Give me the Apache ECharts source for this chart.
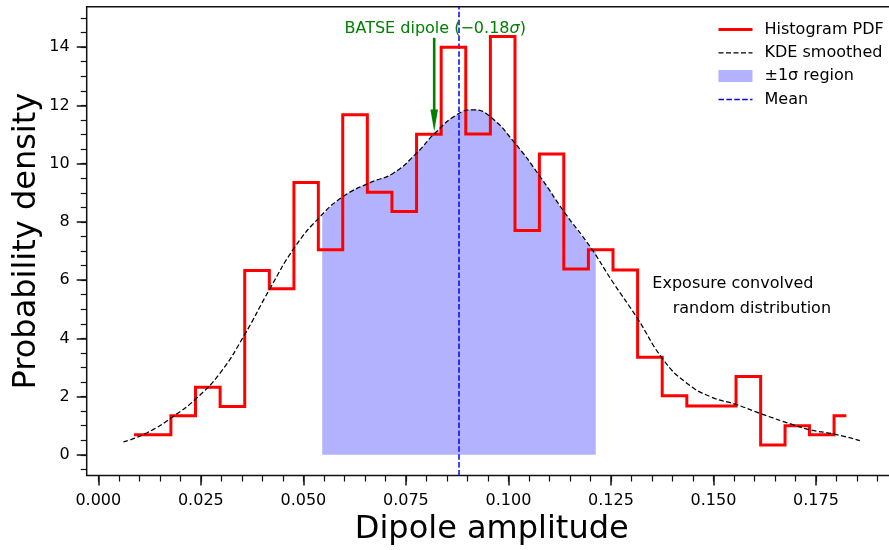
<!DOCTYPE html>
<html><head><meta charset="utf-8">
<script src="https://cdn.jsdelivr.net/npm/echarts@6/dist/echarts.min.js"></script>
<style>html,body{margin:0;padding:0;background:#fff}#c{width:889px;height:550px}</style>
</head><body><div id="c"></div>
<script>
// ---- data ----
const binCenters = [0.0087,0.0147,0.0207,0.0267,0.0327,0.0387,0.0447,0.0507,0.0566,0.0626,
  0.0686,0.0746,0.0806,0.0866,0.0926,0.0986,0.1046,0.1105,0.1165,0.1225,
  0.1285,0.1345,0.1405,0.1465,0.1525,0.1585,0.1645,0.1704,0.1764,0.1824];
const histPdf = [0.69,0.69,1.34,2.32,1.66,6.33,5.70,9.35,7.04,11.68,
  9.02,8.36,11.01,14.00,11.02,14.37,7.70,10.33,6.38,7.04,
  6.35,3.35,2.03,1.68,1.68,2.69,0.34,1.00,0.69,1.34];
const kdeX = [0.0061,0.0118,0.0183,0.0240,0.0297,0.0354,0.0419,0.0480,0.0541,0.0597,
  0.0663,0.0719,0.0776,0.0821,0.0874,0.0914,0.0955,0.1016,0.1077,0.1138,
  0.1199,0.1256,0.1313,0.1378,0.1435,0.1492,0.1557,0.1618,0.1695,0.1735,
  0.1792,0.1857];
const kdeY = [0.44,0.75,1.32,1.95,2.81,4.06,5.72,7.15,8.18,8.87,
  9.35,9.67,10.36,11.05,11.68,11.85,11.62,10.70,9.56,8.30,
  7.15,5.90,4.72,3.26,2.46,2.00,1.72,1.40,1.03,0.86,
  0.72,0.49];
const sigmaLow = 0.0546, sigmaHigh = 0.1213;
const sigmaLowY = 8.20, sigmaHighY = 7.04;
const meanX = 0.08795;
const batseX = 0.0819, batseTextY = 14.63, arrowTopY = 14.32, arrowTipY = 11.10;
const batseLabel = 'BATSE dipole (\u22120.18', batseSigma = '\u03c3';
const exposureX = 0.1351, exposureY = 5.45;
const exposureLabel = 'Exposure convolved\n    random distribution';
const xTickValues = [0, 0.025, 0.05, 0.075, 0.1, 0.125, 0.15, 0.175];
const xTickLabels = ['0.000','0.025','0.050','0.075','0.100','0.125','0.150','0.175'];
const yTickValues = [0, 2, 4, 6, 8, 10, 12, 14];
const yTickLabels = ['0','2','4','6','8','10','12','14'];
const xMin = -0.00283, xMax = 0.1947, yMin = -0.71, yMax = 15.39;
const seriesNames = ['Histogram PDF','KDE smoothed','\u00b11\u03c3 region','Mean'];
const xLabelName = 'Dipole amplitude', yLabelName = 'Probability density';

// ---- build ----
const xMinor = []; for (let i = 0; i <= 38; i++) xMinor.push(+(i*0.005).toFixed(3));
const yMinor = []; for (let i = -1; i <= 30; i++) yMinor.push(i*0.5);
const histData = binCenters.map((c,i)=>[c, histPdf[i]]);
const kdeData = kdeX.map((x,i)=>[x, kdeY[i]]);
const bandData = [[sigmaLow, sigmaLowY]].concat(kdeData.filter(p=>p[0]>sigmaLow && p[0]<sigmaHigh)).concat([[sigmaHigh, sigmaHighY]]);
const FONT = 'DejaVu Sans';
const tickColor = '#111';

function xAxisBase(extra){
  return Object.assign({type:'value', min:xMin, max:xMax, gridIndex:0, position:'bottom',
    axisLine:{show:false, onZero:false}, splitLine:{show:false}}, extra);
}
function yAxisBase(extra){
  return Object.assign({type:'value', min:yMin, max:yMax, gridIndex:0, position:'left',
    axisLine:{show:false, onZero:false}, splitLine:{show:false}}, extra);
}

const chart = echarts.init(document.getElementById('c'), null, {renderer:'canvas'});
chart.setOption({
  animation:false,
  backgroundColor:'#fff',
  grid:{left:86.7, top:6.7, right:-7.8, bottom:74.5, containLabel:false, outerBoundsMode:'none',
    show:true, borderColor:'#111', borderWidth:1.5, backgroundColor:'transparent'},
  xAxis:[
    xAxisBase({
      name:xLabelName, nameLocation:'middle', nameGap:38, nameMoveOverlap:false,
      nameTextStyle:{fontFamily:FONT, fontSize:32, color:'#000'},
      axisTick:{show:true, inside:false, length:10, customValues:xTickValues, lineStyle:{color:tickColor, width:1.5}},
      axisLabel:{show:true, margin:17, customValues:xTickValues, fontFamily:FONT, fontSize:16, color:'#000',
        formatter:(v)=>{const i=xTickValues.findIndex(t=>Math.abs(t-v)<1e-9); return i>=0?xTickLabels[i]:'';}}
    }),
    xAxisBase({
      axisTick:{show:true, inside:false, length:6, customValues:xMinor, lineStyle:{color:tickColor, width:1.2}},
      axisLabel:{show:false}
    })
  ],
  yAxis:[
    yAxisBase({
      name:yLabelName, nameLocation:'middle', nameGap:44, nameRotate:90, nameMoveOverlap:false,
      nameTextStyle:{fontFamily:FONT, fontSize:32, color:'#000'},
      axisTick:{show:true, inside:false, length:10, customValues:yTickValues, lineStyle:{color:tickColor, width:1.5}},
      axisLabel:{show:true, margin:17, customValues:yTickValues, fontFamily:FONT, fontSize:16, color:'#000',
        formatter:(v)=>{const i=yTickValues.findIndex(t=>Math.abs(t-v)<1e-9); return i>=0?yTickLabels[i]:'';}}
    }),
    yAxisBase({
      axisTick:{show:true, inside:false, length:6, customValues:yMinor, lineStyle:{color:tickColor, width:1.2}},
      axisLabel:{show:false}
    })
  ],
  legend:{
    orient:'vertical', left:717, top:21.5, padding:0, itemGap:7.3, itemWidth:34, itemHeight:12,
    textStyle:{fontFamily:FONT, fontSize:16, color:'#000', padding:[0,0,0,7]},
    data:[
      {name:seriesNames[0], itemStyle:{opacity:0}, lineStyle:{width:3}},
      {name:seriesNames[1], itemStyle:{opacity:0}, lineStyle:{width:1.3}},
      {name:seriesNames[2], icon:'rect'},
      {name:seriesNames[3], itemStyle:{opacity:0}, lineStyle:{width:1.5}}
    ]
  },
  series:[
    {name:seriesNames[2], type:'line', data:bandData, smooth:true, symbol:'none', z:1,
      lineStyle:{width:0, color:'rgba(0,0,255,0.3)'}, itemStyle:{color:'rgba(0,0,255,0.3)'},
      areaStyle:{color:'rgba(0,0,255,0.3)', origin:0, opacity:1}},
    {name:seriesNames[3], type:'line', data:[[meanX, yMin],[meanX, yMax]], symbol:'none', z:3,
      lineStyle:{color:'#0000ff', width:1.5, type:[5.5,2.4]}, itemStyle:{color:'#0000ff'}},
    {name:seriesNames[0], type:'line', data:histData, step:'middle', symbol:'none', z:4,
      lineStyle:{color:'#ff0000', width:3, join:'miter'}, itemStyle:{color:'#ff0000'}},
    {name:seriesNames[1], type:'line', data:kdeData, smooth:true, symbol:'none', z:5,
      lineStyle:{color:'#000', width:1.25, type:[5,2.5]}, itemStyle:{color:'#000'}},
    {name:'arrow', type:'custom', z:6, silent:true, clip:false,
      data:[[batseX, arrowTopY, arrowTipY]],
      renderItem:function(params, api){
        const top = api.coord([api.value(0), api.value(1)]);
        const tip = api.coord([api.value(0), api.value(2)]);
        const headLen = 22, headW = 7.5;
        return {type:'group', children:[
          {type:'line', shape:{x1:top[0], y1:top[1], x2:tip[0], y2:tip[1]-headLen+2},
            style:{stroke:'#008000', lineWidth:2.6}},
          {type:'polygon', shape:{points:[[tip[0]-headW/2, tip[1]-headLen],[tip[0]+headW/2, tip[1]-headLen],[tip[0], tip[1]]]},
            style:{fill:'#008000'}}
        ]};
      }},
    {name:'batseText', type:'custom', z:7, silent:true, clip:false,
      data:[[batseX, batseTextY]],
      renderItem:function(params, api){
        const p = api.coord([api.value(0), api.value(1)]);
        return {type:'text', x:p[0]+1, y:p[1], style:{
          text:'{a|'+batseLabel+'}{i|'+batseSigma+'}{a|)}',
          align:'center', verticalAlign:'middle',
          rich:{a:{fontFamily:FONT, fontSize:16, fill:'#008000', color:'#008000'},
                i:{fontFamily:FONT, fontSize:16, fontStyle:'italic', fill:'#008000', color:'#008000'}}
        }};
      }},
    {name:'exposureText', type:'custom', z:7, silent:true, clip:false,
      data:[[exposureX, exposureY]],
      renderItem:function(params, api){
        const p = api.coord([api.value(0), api.value(1)]);
        return {type:'text', x:p[0], y:p[1], style:{
          text:exposureLabel, align:'left', verticalAlign:'middle',
          fontFamily:FONT, fontSize:16, lineHeight:25, fill:'#000'
        }};
      }}
  ]
});
</script>
</body></html>
